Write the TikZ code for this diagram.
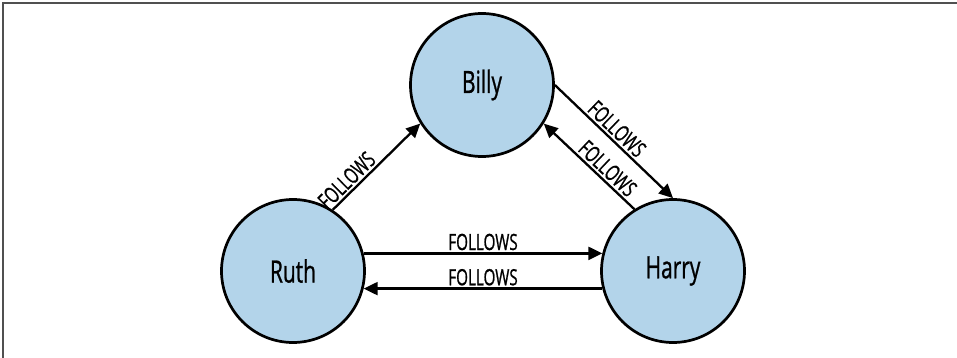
\documentclass[tikz,border=0pt]{standalone}
\usepackage{fontspec}
\setmainfont[FakeStretch=0.68, FakeBold=0.8]{Open Sans}
\usetikzlibrary{arrows.meta}
\definecolor{nodeblue}{RGB}{179,212,234}
\definecolor{framegray}{RGB}{80,80,80}

\begin{document}
\begin{tikzpicture}[x=1pt, y=-1pt,
        person/.style={circle, draw, line width=2.7pt, fill=nodeblue, minimum size=143pt, inner sep=0pt, font=\fontsize{30.8}{32}\selectfont},
        follows/.style={line width=2.3pt, -{Triangle[length=14pt, width=13pt]}},
        lbl/.style={font=\fontsize{22.4}{24}\selectfont, inner sep=2pt}]

                \useasboundingbox (0, 0) rectangle (957, 358);

                \draw[framegray, line width=1.5pt] (3, 358) -- (3, 3) -- (957, 3);

                \node[person] (billy) at (482, 85) {Billy};

                \node[person] (ruth) at (293, 271) {Ruth};

                \node[person] (harry) at (673, 271) {Harry};

                \draw[follows] (ruth.57) -- node[lbl, sloped, above, pos=0.25] {FOLLOWS} (billy.212);

                \draw[follows] (billy.0) -- node[lbl, sloped, above, pos=0.46] {FOLLOWS} (harry.90);

                \draw[follows] (harry.122) -- node[lbl, sloped, above, pos=0.38] {FOLLOWS} (billy.-32);

                \draw[follows] (ruth.14) -- node[lbl, above] {FOLLOWS} (harry.166);

                \draw[follows] (harry.194) -- node[lbl, above] {FOLLOWS} (ruth.-14);
            \end{tikzpicture}
\end{document}
